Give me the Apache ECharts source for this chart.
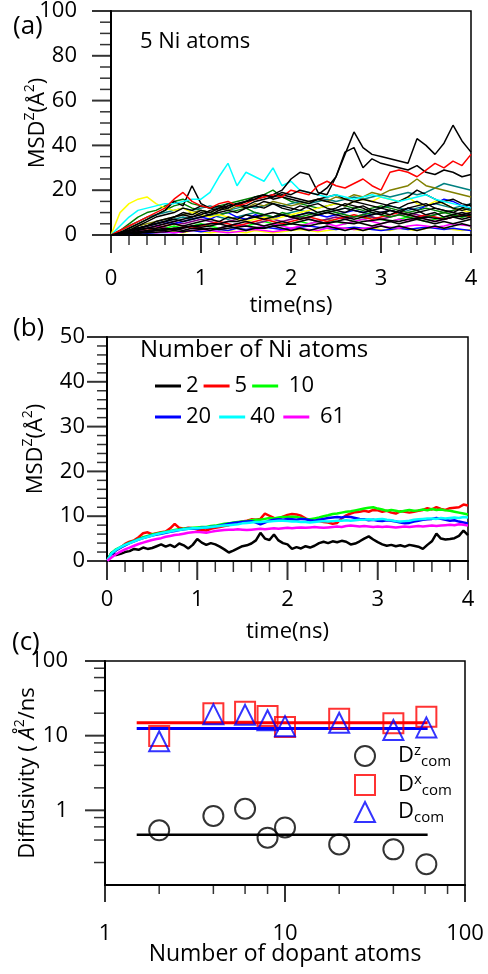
<!DOCTYPE html>
<html><head><meta charset="utf-8">
<script src="https://cdn.jsdelivr.net/npm/echarts@6/dist/echarts.min.js"></script>
<style>html,body{margin:0;padding:0;background:#fff}#c{width:488px;height:974px}</style>
</head><body><div id="c"></div>
<script>
const FONT = 'Open Sans';
// ---------- panel (a): 5 Ni atoms, individual trajectories ----------
const timeA = [0,0.1,0.2,0.3,0.4,0.5,0.6,0.7,0.8,0.9,1,1.1,1.2,1.3,1.4,1.5,1.6,1.7,1.8,1.9,2,2.1,2.2,2.3,2.4,2.5,2.6,2.7,2.8,2.9,3,3.1,3.2,3.3,3.4,3.5,3.6,3.7,3.8,3.9,4];
const aBlack1 = [0,1,2,3,4,5,6,8,9,8, 10,9,11,12,14,15,16,18,17,19, 18,20,19,18,21,26,36,46,39,36, 35,34,33,32,43,40,36,41,49,42, 37];
const aBlack2 = [0,0.5,1.5,2.5,3,4,5,6,7,8, 9,11,12,13,14,15,16,17,18,20, 25,28,27,19,18,26,37,39,30,34, 32,31,30,29,31,28,27,29,28,26, 27];
const aBlack3 = [0,1,3,5,7,9,11,15,13,22, 14,12,13,12,14,13,15,16,17,18, 17,16,15,16,15,14,13,15,16,15, 14,13,12,14,15,13,14,15,16,14, 13];
const aBlack4 = [0,1,2,3,4,5,6,7,6,7, 8,9,10,11,10,12,13,12,14,13, 12,11,13,14,12,11,10,12,13,11, 10,9,11,12,13,14,12,11,10,12, 14];
const aBlack5 = [0,0.5,1,2,3,3,4,5,4,5, 6,7,6,8,7,9,8,9,10,9, 8,7,8,9,10,9,8,7,8,9, 10,11,10,9,8,7,6,7,8,7, 8];
const aBlack6 = [0,0.3,1,1.5,2,2.5,3,2.5,3,4, 3.5,4,5,4,5,6,5,4,5,6, 5,6,7,6,5,6,7,6,5,4, 5,6,5,6,7,6,5,6,5,6, 7];
const aBlack7 = [0,0.5,1,1,1.5,2,2,3,2,3, 3,2,3,4,3,2,3,3,4,3, 2,3,2,3,4,3,2,3,2,3, 4,3,4,3,2,3,4,3,4,5, 4];
const aBlack8 = [0,1,2,3,4,6,7,8,10,9, 11,10,12,14,13,15,17,18,16,17, 16,15,14,16,17,18,16,15,14,13, 12,14,15,17,20,18,16,14,12,11, 12];
const aBlack9 = [0,0.3,0.6,1,1.5,2,2.5,3,3.5,4, 4.5,5,5,6,6,7,8,7,8,9, 8,9,10,9,10,11,12,11,10,11, 12,11,10,9,10,11,12,11,10,9, 10];
const aBlack10 = [0,0.2,0.5,0.8,1,1.2,1.5,2,1.5,2, 2.5,3,2.5,3,3.5,4,3.5,3,4,4.5, 5,4.5,4,5,5.5,6,5.5,5,6,6.5, 7,6.5,6,7,7.5,8,7.5,7,8,8.5, 9];
const aBlack11 = [0,1,2,4,6,8,9,10,12,11, 13,12,11,13,14,12,13,15,14,12, 11,13,12,10,11,12,14,13,12,10, 9,11,10,12,11,9,10,8,9,10, 9];
const aCyan = [0,4,8,11,12,13,14,14,15,16, 16,19,26,32,22,28,26,24,30,22, 24,20,19,18,17,18,17,16,17,18, 17,16,15,16,17,18,16,15,14,13, 12];
const aYellow = [0,10,14,16,17,14,12,11,12,10, 9,8,9,8,7,6,7,8,7,8, 9,10,11,12,13,14,13,15,16,15, 17,16,15,17,14,13,15,14,12,11, 10];
const aYellow2 = [0,0.5,1,1,1.5,1,2,1.5,1,2, 1.5,1,1.5,2,1.5,1,2,1.5,1,1.5, 2,2.5,2,1.5,2,2.5,3,2.5,2,3, 2.5,2,3,2.5,2,3,3.5,3,2.5,2, 2.5];
const aRed = [0,2,4,6,8,10,12,16,19,15, 13,12,14,15,13,14,16,17,18,17, 20,19,18,22,24,22,21,23,25,22, 20,28,29,28,26,29,32,30,33,31, 36];
const aRed2 = [0,1,2,3,2,3,4,5,4,3, 4,5,6,5,4,5,6,7,6,5, 6,7,8,7,6,7,8,9,8,7, 8,9,10,9,8,9,8,7,8,9, 8];
const aOlive = [0,1,2,4,5,6,7,8,9,10, 11,10,12,11,13,12,14,13,15,14, 13,14,15,16,15,17,16,18,17,19, 18,20,21,22,25,22,21,20,19,18, 17];
const aTeal = [0,2,4,6,8,9,10,11,12,11, 12,13,12,11,12,13,12,13,14,13, 14,15,14,15,16,15,16,17,16,17, 18,17,18,19,18,19,21,23,22,21, 20];
const aTeal2 = [0,1,2,3,4,5,6,7,8,7, 8,9,8,7,8,9,10,9,8,9, 10,11,10,9,10,11,12,11,10,11, 12,13,12,11,12,13,14,13,12,13, 14];
const aGreen = [0,2,5,8,10,11,13,15,16,14, 13,12,13,14,15,16,17,18,20,17, 15,14,13,12,13,14,13,12,11,12, 13,12,11,10,11,12,11,10,11,12, 11];
const aGreen2 = [0,1,3,5,7,9,11,13,14,12, 11,10,9,10,11,12,10,9,8,10, 9,8,9,10,11,10,9,8,9,10, 9,8,9,8,7,8,9,10,9,8, 9];
const aBlue = [0,1,2,3,4,5,6,5,6,7, 8,7,9,10,8,7,9,8,7,9, 8,9,10,9,8,9,10,11,10,9, 10,11,10,12,11,13,14,16,15,13, 12];
const aBlue2 = [0,0.3,0.5,1,0.8,1,1.2,1,1.5,2, 1.5,2,2.5,2,3,2.5,3,3.5,3,2.5, 3,3.5,4,3.5,3,2.5,3,3.5,3,2.5, 2,2.5,3,2.5,3,3.5,3,2.5,3,2.5, 2];
const aMagenta = [0,0.5,1,2,3,4,3,2,3,4, 3,2,3,4,5,4,3,4,5,4, 3,4,5,6,5,4,5,6,7,6, 5,6,7,6,8,7,6,7,8,9, 10];
const aMagenta2 = [0,0.5,1,1.5,2,1,1.5,1,1.5,2, 2.5,2,1.5,1,1.5,2,2.5,2,1.5,2, 2.5,3,2.5,2,3,3.5,3,2.5,3,3.5, 4,3.5,3,4,4.5,4,3.5,4,5,4.5, 4];
const aLime = [0,1,1.5,2,3,2,3,4,3,4, 5,4,3,4,5,4,5,6,5,4, 5,6,5,6,7,6,5,6,7,8, 7,6,7,8,7,6,7,8,9,8, 9];
const aPurple = [0,0.5,1,2,3,4,5,6,5,6, 7,6,5,6,7,6,5,6,7,6, 7,8,7,6,7,8,7,8,9,8, 7,8,9,10,9,8,9,10,11,12, 11];
const aXMajor = [0,1,2,3,4];
const aXMinor = [0.2,0.4,0.6,0.8,1.2,1.4,1.6,1.8,2.2,2.4,2.6,2.8,3.2,3.4,3.6,3.8];
const aYMajor = [0,20,40,60,80,100];
const aYMinor = [5,10,15,25,30,35,45,50,55,65,70,75,85,90,95];

// ---------- panel (b): averaged MSD for different numbers of Ni atoms ----------
const timeB = [0,0.05,0.1,0.15,0.2,0.25,0.3,0.35,0.4,0.45,0.5,0.55,0.6,0.65,0.7,0.75,0.8,0.85,0.9,0.95,1,1.05,1.1,1.15,1.2,1.25,1.3,1.35,1.4,1.45,1.5,1.55,1.6,1.65,1.7,1.75,1.8,1.85,1.9,1.95,2,2.05,2.1,2.15,2.2,2.25,2.3,2.35,2.4,2.45,2.5,2.55,2.6,2.65,2.7,2.75,2.8,2.85,2.9,2.95,3,3.05,3.1,3.15,3.2,3.25,3.3,3.35,3.4,3.45,3.5,3.55,3.6,3.65,3.7,3.75,3.8,3.85,3.9,3.95,4];
const bNames = ['2','5','10','20','40','61'];
const b2 = [0,1.9,1.3,1.6,2.0,2.2,2.7,2.5,3.0,2.7, 2.9,3.3,3.7,3.2,3.6,3.1,3.9,3.5,2.8,3.6, 4.9,4.1,3.6,4.0,3.7,3.2,2.6,1.9,2.3,2.8, 3.3,3.5,3.9,4.6,6.3,5.0,4.7,5.9,4.6,4.0, 3.7,2.7,3.1,2.8,3.3,3.0,3.4,4.0,4.3,4.0, 4.4,4.2,4.5,4.3,3.7,3.9,4.4,5.0,5.5,4.8, 4.2,3.7,3.4,3.6,3.3,3.5,3.2,3.6,3.4,3.2, 2.7,3.6,4.4,6.1,5.0,4.8,4.9,5.1,5.6,6.8, 5.8];
const b5 = [0,1.6,2.4,3.0,3.8,4.3,4.6,5.3,6.2,6.4, 6.0,6.2,6.4,6.6,7.3,8.3,7.4,7.2,7.4,7.3, 7.0,6.9,6.8,7.2,7.4,7.6,7.8,8.0,8.3,8.6, 8.8,9.0,9.3,9.2,9.4,10.6,10.1,9.6,9.5,9.9, 10.3,10.5,10.4,10.1,9.5,9.1,9.0,8.9,8.7,8.6, 8.3,8.5,9.5,10.2,10.6,10.9,11.0,11.2,11.0,11.4, 11.3,11.0,11.2,10.8,10.6,11.1,11.0,10.8,11.0,11.2, 11.4,11.8,11.5,12.0,11.6,11.4,11.8,11.9,12.0,12.6, 12.4];
const b10 = [0,1.8,2.6,3.1,3.6,4.1,4.5,4.9,5.3,5.6, 5.9,6.1,6.3,6.5,6.7,6.9,7.1,7.2,7.3,7.4, 7.5,7.6,7.6,7.8,7.9,8.1,8.3,8.4,8.6,8.7, 8.8,8.9,9.1,9.2,9.2,9.4,9.6,9.5,9.7,9.8, 9.8,9.9,9.8,9.6,9.4,9.3,9.5,9.7,10.0,10.2, 10.5,10.6,10.8,11.0,11.1,11.3,11.5,11.7,11.9,12.0, 11.7,11.5,11.2,11.4,11.2,11.0,11.2,11.4,11.2,11.3, 11.5,11.3,11.6,11.4,11.5,11.3,11.2,11.0,10.8,10.6, 10.4];
const b20 = [0,1.5,2.4,3.0,3.5,4.0,4.4,4.8,5.1,5.4, 5.7,5.9,6.1,6.3,6.5,6.7,6.9,7.1,7.2,7.3, 7.2,7.4,7.5,7.6,7.7,7.9,8.1,8.3,8.5,8.6, 8.7,8.8,8.9,8.6,8.2,8.6,9.0,9.2,9.3,9.2, 9.4,9.3,9.2,9.4,9.3,9.1,9.0,9.2,9.4,9.6, 9.7,9.8,9.7,9.9,9.8,9.6,9.4,9.3,9.1,9.2, 9.0,8.9,9.1,9.0,8.8,8.6,8.4,8.5,8.8,9.0, 9.2,9.3,9.4,9.6,9.4,9.2,9.0,9.1,8.8,8.6, 8.4];
const b40 = [0,1.7,2.5,3.1,3.6,4.0,4.4,4.8,5.1,5.4, 5.7,6.0,6.2,6.4,6.6,6.8,6.9,7.1,7.2,7.3, 7.3,7.4,7.5,7.6,7.7,7.8,7.9,8.0,8.1,8.2, 8.4,8.5,8.6,8.7,8.7,8.8,8.8,8.9,9.0,9.0, 8.9,8.8,8.8,8.7,8.7,8.6,8.7,8.8,8.9,8.8, 8.9,9.0,9.0,9.1,9.0,9.1,9.2,9.2,9.3,9.2, 9.3,9.4,9.2,9.1,8.9,8.8,8.9,9.0,9.2,9.3, 9.4,9.5,9.5,9.4,9.6,9.5,9.6,9.7,9.6,9.8, 9.7];
const b61 = [0,0.8,1.5,2.1,2.6,3.0,3.4,3.8,4.1,4.4, 4.7,4.9,5.1,5.4,5.6,5.8,5.9,6.1,6.3,6.4, 6.5,6.4,6.3,6.5,6.7,6.8,6.9,7.0,7.0,7.1, 7.0,6.9,7.0,7.1,7.2,7.1,7.2,7.3,7.2,7.3, 7.4,7.3,7.4,7.5,7.4,7.5,7.6,7.5,7.4,7.5, 7.6,7.7,7.6,7.8,7.9,7.8,7.7,7.8,7.7,7.6, 7.7,7.6,7.7,7.6,7.5,7.6,7.7,7.6,7.7,7.8, 7.7,7.8,7.9,7.8,7.9,8.0,8.1,8.0,8.2,8.1, 7.9];
const bXMajor = [0,1,2,3,4];
const bXMinor = [0.2,0.4,0.6,0.8,1.2,1.4,1.6,1.8,2.2,2.4,2.6,2.8,3.2,3.4,3.6,3.8];
const bYMajor = [0,10,20,30,40,50];
const bYMinor = [2,4,6,8,12,14,16,18,22,24,26,28,32,34,36,38,42,44,46,48];

// ---------- panel (c): diffusivity vs number of dopant atoms ----------
const cAtoms = [2,4,6,8,10,20,40,61];
const cDz = [0.54,0.84,1.05,0.43,0.59,0.35,0.30,0.19];
const cDx = [9.9,19.9,20.9,18.3,13.1,16.8,14.7,17.9];
const cD  = [8.4,19.4,19.0,16.1,13.4,14.9,11.9,12.9];
const fitRange = [1.5, 62];
const fitDz = [0.47, 0.47];
const fitDx = [14.9, 14.9];
const fitD  = [12.5, 12.5];
const cXMajor = [1,10,100];
const cXMinor = [2,4,6,8,20,40,60,80];
const cYMajor = [1,10,100];
const cYMinor = [0.2,0.4,0.6,0.8,2,4,6,8,20,40,60,80];

const K = '#000';
const mkAxisLine = () => ({show:true, lineStyle:{color:K, width:2}});
const lblX = m => ({color:K, fontSize:22, fontFamily:FONT, margin:m, align:'center', verticalAlign:'top'});
const lblY = m => ({color:K, fontSize:22, fontFamily:FONT, margin:m, align:'right', verticalAlign:'middle'});
const nameStyle = () => ({color:K, fontSize:22, fontFamily:FONT});
const richName = () => ({
  m:{fontSize:22, fontFamily:FONT, color:K, lineHeight:30},
  sup:{fontSize:14, fontFamily:FONT, color:K, verticalAlign:'top', lineHeight:15},
  it:{fontSize:22, fontFamily:FONT, color:K, fontStyle:'italic', lineHeight:30},
  m2:{fontSize:22, fontFamily:FONT, color:K, lineHeight:30}
});

const G = [
  {left:111, top:11, width:360, height:224},
  {left:107, top:337, width:361, height:224},
  {left:105, top:661, width:360, height:224}
];

function lineA(name, color, data){
  return {type:'line', name, xAxisIndex:0, yAxisIndex:0, showSymbol:false, symbol:'none', silent:true,
    lineStyle:{color, width:1.5}, itemStyle:{color}, data: timeA.map((t,i)=>[t,data[i]])};
}
function lineB(name, color, data){
  return {type:'line', name, xAxisIndex:1, yAxisIndex:1, showSymbol:false, symbol:'none', silent:true,
    lineStyle:{color, width:2.5}, itemStyle:{color}, data: timeB.map((t,i)=>[t,data[i]])};
}
function fitLine(color, vals, w){
  return {type:'line', xAxisIndex:2, yAxisIndex:2, showSymbol:false, symbol:'none', silent:true,
    lineStyle:{color, width:w}, data: fitRange.map((x,i)=>[x, vals[i]])};
}
function scat(name, symbol, color, vals){
  return {type:'scatter', name, xAxisIndex:2, yAxisIndex:2, symbol, symbolSize:20, silent:true, z:4,
    itemStyle:{color:'rgba(255,255,255,0)', borderColor:color, borderWidth:2},
    data: cAtoms.map((x,i)=>[x, vals[i]])};
}
// tick marks: thin rectangle symbols placed at tick values through the axes' own scales
function ticks(ai, pts, size, offset){
  return {type:'scatter', xAxisIndex:ai, yAxisIndex:ai, symbol:'rect', symbolSize:size, symbolOffset:offset,
    clip:false, silent:true, z:6, itemStyle:{color:K}, data:pts};
}
const tickSeries = [
  ticks(0, aXMajor.map(v=>[v,0]), [2,18], [0,9]),
  ticks(0, aXMinor.map(v=>[v,0]), [1.5,10], [0,5]),
  ticks(0, aYMajor.map(v=>[0,v]), [19,2], [-9.5,0]),
  ticks(0, aYMinor.map(v=>[0,v]), [11,1.5], [-5.5,0]),
  ticks(1, bXMajor.map(v=>[v,0]), [2,19], [0,9.5]),
  ticks(1, bXMinor.map(v=>[v,0]), [1.5,11], [0,5.5]),
  ticks(1, bYMajor.map(v=>[0,v]), [20,2], [-10,0]),
  ticks(1, bYMinor.map(v=>[0,v]), [10,1.5], [-5,0]),
  ticks(2, cXMajor.map(v=>[v,0.1]), [2,17], [0,8.5]),
  ticks(2, cXMinor.map(v=>[v,0.1]), [1.5,9], [0,4.5]),
  ticks(2, cYMajor.map(v=>[1,v]), [20,2], [-10,0]),
  ticks(2, cYMinor.map(v=>[1,v]), [11,1.5], [-5.5,0])
];

const gridBase = () => ({show:true, borderColor:K, borderWidth:1.5});

const option = {
  animation:false,
  backgroundColor:'#fff',
  grid: G.map(g => Object.assign({}, g, gridBase())),
  xAxis:[
    {gridIndex:0, type:'value', min:0, max:4, interval:1, axisLine:mkAxisLine(), axisTick:{show:false},
      axisLabel:lblX(33), splitLine:{show:false}, name:'time(ns)', nameLocation:'middle', nameGap:60, nameMoveOverlap:false, nameTextStyle:nameStyle()},
    {gridIndex:1, type:'value', min:0, max:4, interval:1, axisLine:mkAxisLine(), axisTick:{show:false},
      axisLabel:lblX(28), splitLine:{show:false}, name:'time(ns)', nameLocation:'middle', nameGap:60, nameMoveOverlap:false, nameTextStyle:nameStyle()},
    {gridIndex:2, type:'log', logBase:10, min:1, max:100, axisLine:mkAxisLine(), axisTick:{show:false},
      axisLabel:lblX(38), splitLine:{show:false},
      name:'Number of dopant atoms', nameLocation:'middle', nameGap:58, nameMoveOverlap:false, nameTextStyle:Object.assign(nameStyle(), {fontSize:23})}
  ],
  yAxis:[
    {gridIndex:0, type:'value', min:0, max:100, interval:20, axisLine:mkAxisLine(), axisTick:{show:false},
      axisLabel:lblY(34), splitLine:{show:false},
      name:'{m|MSD}{sup|Z}{m|(Å}{sup|2}{m|)}', nameLocation:'middle', nameRotate:90, nameGap:58, nameMoveOverlap:false,
      nameTextStyle:{rich:richName()}},
    {gridIndex:1, type:'value', min:0, max:50, interval:10, axisLine:mkAxisLine(), axisTick:{show:false},
      axisLabel:lblY(22), splitLine:{show:false},
      name:'{m|MSD}{sup|Z}{m|(Å}{sup|2}{m|)}', nameLocation:'middle', nameRotate:90, nameGap:56, nameMoveOverlap:false,
      nameTextStyle:{rich:richName()}},
    {gridIndex:2, type:'log', logBase:10, min:0.1, max:100, axisLine:mkAxisLine(), axisTick:{show:false},
      axisLabel:Object.assign(lblY(37), {formatter: v => v < 0.5 ? '' : String(Math.round(v))}),
      splitLine:{show:false},
      name:'{m2|Diffusivity ( }{it|Å}{sup|2}{m2|/ns}', nameLocation:'middle', nameRotate:90, nameGap:62, nameMoveOverlap:false,
      nameTextStyle:{rich:richName()}}
  ],
  legend:[
    {data:['2','5','10'], left:150, top:370, orient:'horizontal', icon:'rect', itemWidth:26, itemHeight:3, itemGap:5,
      selectedMode:false, formatter: n => n==='10' ? ' 10' : n,
      textStyle:{color:K, fontSize:22, fontFamily:FONT}},
    {data:['20','40','61'], left:150, top:401, orient:'horizontal', icon:'rect', itemWidth:26, itemHeight:3, itemGap:8,
      selectedMode:false, formatter: n => n==='61' ? ' 61' : n,
      textStyle:{color:K, fontSize:22, fontFamily:FONT}},
    {data:['Dz','Dx','D'], left:349, top:738, orient:'vertical', itemWidth:20, itemHeight:20, itemGap:3,
      selectedMode:false,
      formatter: n => n==='Dz' ? '{sp|}{m|D}{sup|z}{sub|com}' : n==='Dx' ? '{sp|}{m|D}{sup|x}{sub|com}' : '{sp|}{m|D}{sub|com}',
      textStyle:{color:K, fontFamily:FONT, rich:{
        sp:{width:18},
        m:{fontSize:22, fontFamily:FONT, color:K, lineHeight:26},
        sup:{fontSize:15, fontFamily:FONT, color:K, verticalAlign:'top', lineHeight:15},
        sub:{fontSize:15, fontFamily:FONT, color:K, verticalAlign:'bottom', lineHeight:15}
      }}}
  ],
  graphic:[
    {type:'text', left:13, top:14, style:{text:'(a)', fontSize:26, fontFamily:FONT, fill:K}},
    {type:'text', left:140, top:31, style:{text:'5 Ni atoms', fontSize:22, fontFamily:FONT, fill:K}},
    {type:'text', left:13, top:316, style:{text:'(b)', fontSize:26, fontFamily:FONT, fill:K}},
    {type:'text', left:140, top:338, style:{text:'Number of Ni atoms', fontSize:24, fontFamily:FONT, fill:K}},
    {type:'text', left:12, top:630, style:{text:'(c)', fontSize:26, fontFamily:FONT, fill:K}}
  ],
  series:[
    lineA('a-yellow2','#ffff00',aYellow2), lineA('a-blue2','#0000ff',aBlue2), lineA('a-magenta2','#ff00ff',aMagenta2),
    lineA('a-lime','#00ff00',aLime), lineA('a-purple','#800080',aPurple), lineA('a-magenta','#ff00ff',aMagenta),
    lineA('a-red2','#ff0000',aRed2), lineA('a-teal2','#008080',aTeal2),
    lineA('a-blue','#0000ff',aBlue), lineA('a-green2','#008000',aGreen2), lineA('a-green','#008000',aGreen),
    lineA('a-teal','#008080',aTeal), lineA('a-olive','#808000',aOlive), lineA('a-yellow','#ffff00',aYellow),
    lineA('a-k7',K,aBlack7), lineA('a-k6',K,aBlack6), lineA('a-k10',K,aBlack10), lineA('a-k5',K,aBlack5),
    lineA('a-k9',K,aBlack9), lineA('a-k4',K,aBlack4), lineA('a-k11',K,aBlack11), lineA('a-k3',K,aBlack3), lineA('a-k8',K,aBlack8),
    lineA('a-cyan','#00ffff',aCyan),
    lineA('a-k2',K,aBlack2), lineA('a-red','#ff0000',aRed), lineA('a-k1',K,aBlack1),
    lineB(bNames[0],'#000000',b2), lineB(bNames[1],'#ff0000',b5), lineB(bNames[2],'#00ff00',b10),
    lineB(bNames[3],'#0000ff',b20), lineB(bNames[4],'#00ffff',b40), lineB(bNames[5],'#ff00ff',b61),
    fitLine('#000000', fitDz, 2.5), fitLine('#ff0000', fitDx, 3), fitLine('#0000ff', fitD, 3),
    scat('Dz','circle','#000000',cDz), scat('Dx','rect','#ff0000',cDx), scat('D','triangle','#0000ff',cD)
  ].concat(tickSeries)
};
const chart = echarts.init(document.getElementById('c'));
chart.setOption(option);
</script></body></html>
